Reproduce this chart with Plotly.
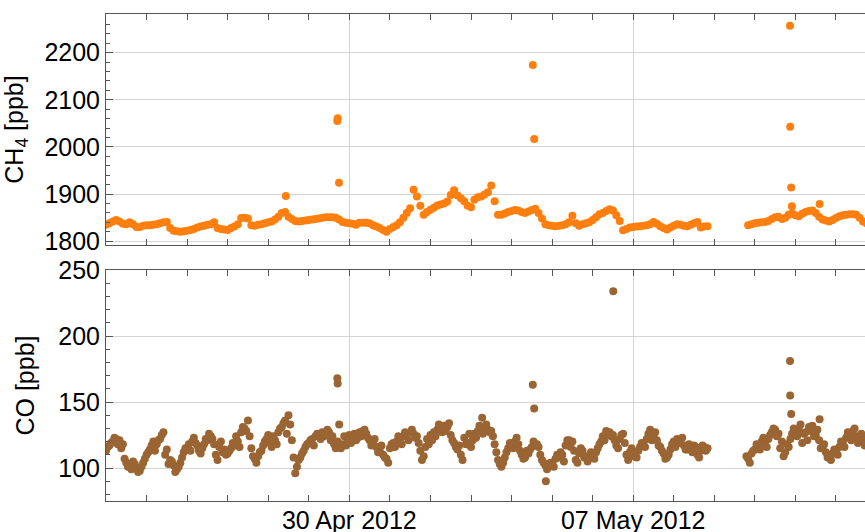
import pandas as pd
import plotly.graph_objects as go

# 2-hourly samples starting 24 Apr 2012 00:00 (None = no data)
start = "2012-04-24 00:00"
step = "2h"

ch4_ppb = [
    1835, 1838, 1842, 1845, 1842, 1837, 1836, 1840, 1836, 1830, 1830, 1833,  # 24 Apr
    1834, 1834, 1835, 1836, 1838, 1840, 1841, 1828, 1822, 1821, 1820, 1821,  # 25 Apr
    1822, 1824, 1826, 1829, 1831, 1833, 1835, 1836, 1840, 1828, 1826, 1825,  # 26 Apr
    1824, 1828, 1831, 1836, 1849, 1850, 1848, 1834, 1833, 1835, 1836, 1838,  # 27 Apr
    1840, 1842, 1846, 1852, 1860, 1862, 1852, 1847, 1843, 1842, 1843, 1844,  # 28 Apr
    1845, 1846, 1847, 1848, 1850, 1851, 1851, 1851, 1850, 1846, 1841, 1839,  # 29 Apr
    1838, 1837, 1835, 1839, 1839, 1839, 1838, 1834, 1831, 1828, 1824, 1820,  # 30 Apr
    1826, 1830, 1834, 1840, 1850, 1860, 1870, 1909, 1895, 1875, 1856, 1862,  # 01 May
    1867, 1871, 1876, 1878, 1880, 1884, 1898, 1908, 1897, 1891, 1885, 1875,  # 02 May
    1872, 1888, 1893, 1895, 1899, 1904, 1918, 1885, 1856, 1856, 1859, 1862,  # 03 May
    1864, 1866, 1865, 1862, 1860, 1863, 1866, 1869, 1860, 1848, 1836, 1834,  # 04 May
    1833, 1832, 1833, 1834, 1836, 1840, 1854, 1838, 1833, 1836, 1838, 1840,  # 05 May
    1845, 1851, 1857, 1860, 1864, 1868, 1865, 1855, 1843, 1823, 1826, 1829,  # 06 May
    1830, 1831, 1832, 1833, 1834, 1836, 1841, 1837, 1832, 1828, 1825, 1829,  # 07 May
    1833, 1836, 1835, 1833, 1832, 1835, 1838, 1841, 1829, 1831, 1832, None,  # 08 May
    None, None, None, None, None, None, None, None, None, None, 1834, 1836,  # 09 May
    1838, 1839, 1840, 1841, 1843, 1847, 1851, 1852, 1847, 1850, 1856, 1860,  # 10 May
    1855, 1853, 1858, 1862, 1864, 1865, 1860, 1852, 1846, 1844, 1842, 1845,  # 11 May
    1849, 1853, 1855, 1856, 1857, 1857, 1856, 1850, 1842, 1838,              # 12 May
]

# CO on the even hours (same grid as CH4)
co_ppb = [
    113, 117, 120, 122, 121, 118, 104, 102, 105, 100, 98, 104,
    110, 114, 120, 118, 122, 127, 114, 106, 102, 99, 104, 112,
    115, 113, 123, 117, 111, 118, 121, 124, 118, 106, 120, 114,
    111, 115, 117, 120, 127, 130, 136, 115, 107, 109, 113, 120,
    125, 116, 121, 127, 131, 136, 140, 121, 96, 106, 111, 116,
    119, 122, 124, 125, 127, 126, 127, 124, 115, 133, 118, 117,
    125, 122, 121, 127, 128, 126, 121, 119, 116, 113, 110, 107,
    115, 119, 120, 122, 124, 126, 127, 126, 124, 113, 109, 122,
    125, 127, 129, 130, 132, 131, 125, 119, 114, 110, 123, 119,
    116, 126, 128, 130, 130, 129, 128, 118, 106, 101, 108, 115,
    118, 120, 118, 110, 108, 111, 116, 117, 116, 106, 102, 101,
    104, 107, 108, 110, 117, 121, 120, 106, 111, 113, 109, 108,
    110, 112, 118, 124, 128, 127, 125, 117, 122, 126, 110, 112,
    109, 108, 116, 119, 122, 129, 124, 121, 116, 111, 108, 114,
    120, 122, 120, 117, 114, 115, 117, 110, 113, 116, 115, None,
    None, None, None, None, None, None, None, None, None, None, 107, 111,
    114, 117, 120, 119, 122, 127, 129, 126, 120, 112, 116, 126,
    128, 129, 119, 127, 131, 132, 125, 121, 116, 112, 109, 111,
    113, 116, 119, 123, 125, 128, 124, 120, 124, 121,
]

# CO on the odd hours (starting 24 Apr 01:00)
co_odd_start = "2012-04-24 01:00"
co_ppb_odd = [
    116, 119, 123, 118, 115, 107, 101, 99, 103, 97, 101, 107,
    112, 117, 113, 121, 125, 110, 103, 105, 97, 101, 108, 115,
    118, 120, 119, 113, 115, 122, 126, 122, 110, 116, 112, 110,
    113, 119, 124, 116, 131, 128, 124, 109, 104, 112, 117, 122,
    119, 124, 118, 130, 134, 126, 133, 108, 101, 108, 113, 118,
    121, 117, 126, 122, 124, 129, 121, 118, 120, 115, 124, 120,
    119, 126, 123, 124, 129, 123, 117, 122, 112, 117, 108, 104,
    118, 116, 124, 118, 127, 121, 129, 123, 119, 106, 116, 118,
    121, 124, 133, 127, 128, 134, 121, 116, 117, 106, 118, 126,
    121, 123, 132, 126, 133, 127, 124, 112, 103, 104, 112, 119,
    115, 123, 113, 107, 113, 114, 120, 118, 110, 104, 99, 104,
    101, 110, 112, 105, 121, 116, 113, 104, 115, 108, 105, 112,
    107, 115, 120, 121, 126, 124, 121, 115, 125, 119, 106, 115,
    111, 113, 119, 116, 126, 121, 127, 117, 113, 107, 110, 118,
    116, 119, 123, 114, 118, 112, 116, 108, 117, 113, None, None,
    None, None, None, None, None, None, None, None, None, 109, 104, 113,
    118, 114, 123, 116, 125, 130, 124, 115, 109, 118, 122, 130,
    124, 133, 126, 121, 128, 124, 129, 115, 118, 108, 106, 114,
    110, 120, 116, 127, 121, 130, 119, 126, 117,
]

# isolated spikes between the regular samples
ch4_spike_times = ["2012-04-28 10:24", "2012-04-29 16:54", "2012-04-29 17:06",
                   "2012-04-29 17:54", "2012-05-04 12:36", "2012-05-04 13:24",
                   "2012-05-10 20:48", "2012-05-10 20:54", "2012-05-10 21:30",
                   "2012-05-10 21:54", "2012-05-11 14:18"]
ch4_spike_vals = [1896, 2055, 2061, 1924, 2174, 2017, 2257, 2043, 1914, 1874, 1879]

co_spike_times = ["2012-04-29 16:54", "2012-04-29 17:06", "2012-05-03 06:36",
                  "2012-05-04 12:36", "2012-05-04 13:24", "2012-05-04 20:18",
                  "2012-05-06 12:12", "2012-05-10 20:48", "2012-05-10 20:54",
                  "2012-05-10 21:30", "2012-05-11 14:18"]
co_spike_vals = [168, 164, 138, 163, 145, 90, 234, 181, 155, 141, 137]

label_dates = ["2012-04-30", "2012-05-07"]

times = pd.date_range(start, periods=len(ch4_ppb), freq=step)
times_odd = pd.date_range(co_odd_start, periods=len(co_ppb_odd), freq=step)

ORANGE = "#ff7f0e"
BROWN = "#9a6533"
FONT = "Liberation Sans, Arial, sans-serif"
AXC = "#555555"

fig = go.Figure()
fig.add_trace(go.Scatter(x=list(times) + pd.to_datetime(ch4_spike_times).tolist(),
                         y=ch4_ppb + ch4_spike_vals, mode="markers",
                         marker=dict(color=ORANGE, size=8), xaxis="x", yaxis="y"))
fig.add_trace(go.Scatter(x=list(times) + list(times_odd) + pd.to_datetime(co_spike_times).tolist(),
                         y=co_ppb + co_ppb_odd + co_spike_vals, mode="markers",
                         marker=dict(color=BROWN, size=8), xaxis="x2", yaxis="y2"))

xcommon = dict(
    range=["2012-04-24 00:00", "2012-05-12 17:10"],
    tickvals=label_dates, tickformat="%d %b %Y",
    ticks="inside", ticklen=6, tickcolor=AXC,
    showline=True, linecolor=AXC, linewidth=1, mirror="allticks",
    showgrid=True, gridcolor="#d4d4d4", zeroline=False, automargin=False,
    minor=dict(dtick=86400000, tick0="2012-04-24", ticks="inside", ticklen=6,
               tickcolor=AXC, showgrid=False),
    tickfont=dict(size=25, color="black"),
)
ycommon = dict(
    ticks="inside", ticklen=7, tickcolor=AXC,
    showline=True, linecolor=AXC, linewidth=1, mirror=False,
    showgrid=True, gridcolor="#d4d4d4", zeroline=False, automargin=False,
    tickfont=dict(size=25, color="black"),
)

fig.update_layout(
    width=865, height=532,
    margin=dict(l=106, r=0, t=14, b=31),
    paper_bgcolor="white", plot_bgcolor="white",
    font=dict(family=FONT, color="black"),
    showlegend=False,
    xaxis=dict(xcommon, anchor="y", domain=[0, 1], showticklabels=False),
    xaxis2=dict(xcommon, anchor="y2", domain=[0, 1], matches="x", ticklabelstandoff=-3),
    yaxis=dict(ycommon, anchor="x", domain=[0.5257, 1.0], range=[1792, 2282],
               dtick=100, tick0=0,
               minor=dict(dtick=20, ticks="inside", ticklen=4, tickcolor=AXC, showgrid=False),
               title=dict(text="CH<sub>4</sub> [ppb]", font=dict(size=25), standoff=16)),
    yaxis2=dict(ycommon, anchor="x2", domain=[0, 0.4743], range=[75, 250],
                dtick=50, tick0=0,
                minor=dict(dtick=10, ticks="inside", ticklen=4, tickcolor=AXC, showgrid=False),
                title=dict(text="CO [ppb]", font=dict(size=25), standoff=16)),
)

# drop the default 8px page margin so the figure fills the window exactly
fig.write_html("out.html", config={"displayModeBar": False},
               post_script="document.body.style.margin='0';")
